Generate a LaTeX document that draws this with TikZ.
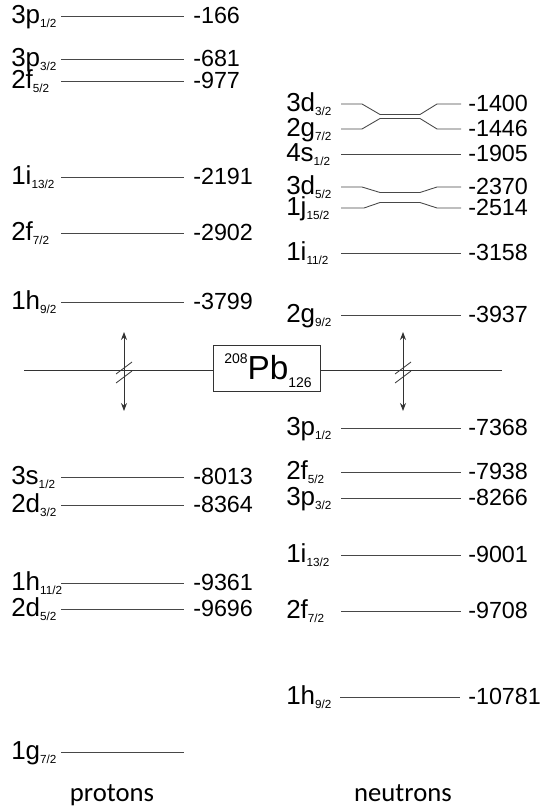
\documentclass[tikz,border=0pt]{standalone}
\usepackage{fontspec}
\setmainfont{Liberation Sans}
\newfontfamily\capfont{Carlito}
\usetikzlibrary{arrows.meta}
\newcommand{\lvlrow}[8]{%
  \node[lab] (#1l) at (#2,#5+7.5) {#6\raisebox{-3.2pt}{\fontsize{8.8}{9}\selectfont #7}};
  \node[val] (#1v) at (#4,#5+7.5) {#8};
  \coordinate (#1a) at (#3,#5);
}
\begin{document}
\begin{tikzpicture}[x=0.75pt,y=-0.75pt,
  lvl/.style={draw=black!72,line width=0.65pt},
  lab/.style={anchor=base west,inner sep=0pt,font=\fontsize{19.5}{20}\selectfont},
  val/.style={anchor=base west,inner sep=0pt,font=\fontsize{17.5}{18}\selectfont},
  axis/.style={draw=black!80,line width=0.6pt},
  dbl/.style={axis,{Stealth[length=6pt,width=4.5pt]}-{Stealth[length=6pt,width=4.5pt]}},
  captext/.style={anchor=base,inner sep=0pt,font=\capfont\fontsize{20}{20}\selectfont}]
\useasboundingbox (0,0) rectangle (539,812);
% ---------- protons ----------
\lvlrow{pa}{11}{61}{193}{16}{3p}{1/2}{-166}
\lvlrow{pb}{11}{61}{193}{59}{3p}{3/2}{-681}
\lvlrow{pc}{11}{61}{193}{81}{2f}{5/2}{-977}
\lvlrow{pd}{11}{61}{193}{177}{1i}{13/2}{-2191}
\lvlrow{pe}{11}{61}{193}{233}{2f}{7/2}{-2902}
\lvlrow{pf}{11}{61}{193}{302}{1h}{9/2}{-3799}
\lvlrow{pg}{11}{61}{193}{477}{3s}{1/2}{-8013}
\lvlrow{ph}{11}{61}{193}{505}{2d}{3/2}{-8364}
\lvlrow{pi}{11}{61}{193}{583}{1h}{11/2}{-9361}
\lvlrow{pj}{11}{61}{193}{609}{2d}{5/2}{-9696}
\lvlrow{pk}{11}{61}{193}{752}{1g}{7/2}{}
\foreach \n/\y in {pa/16,pb/59,pc/81,pd/177,pe/233,pf/302,pg/477,ph/505,pi/583,pj/609}
  {\draw[lvl] (\n a) -- (184,\y);}
\draw[lvl] (pka) -- (184,752);
% ---------- neutrons ----------
\lvlrow{na}{286}{341}{468}{104}{3d}{3/2}{-1400}
\lvlrow{nb}{286}{341}{468}{129}{2g}{7/2}{-1446}
\lvlrow{nc}{286}{341}{468}{154}{4s}{1/2}{-1905}
\lvlrow{nd}{286}{341}{468}{187}{3d}{5/2}{-2370}
\lvlrow{ne}{286}{341}{468}{208}{1j}{15/2}{-2514}
\lvlrow{nf}{286}{341}{468}{253}{1i}{11/2}{-3158}
\lvlrow{ng}{286}{341}{468}{315}{2g}{9/2}{-3937}
\lvlrow{nh}{286}{341}{468}{428}{3p}{1/2}{-7368}
\lvlrow{ni}{286}{341}{468}{472}{2f}{5/2}{-7938}
\lvlrow{nj}{286}{341}{468}{498}{3p}{3/2}{-8266}
\lvlrow{nk}{286}{341}{468}{555}{1i}{13/2}{-9001}
\lvlrow{nl}{286}{341}{468}{611}{2f}{7/2}{-9708}
\lvlrow{nm}{286}{340}{468}{697}{1h}{9/2}{-10781}
% crossing levels
\draw[lvl] (naa) -- (362,104) -- (380,114.5) -- (420,114.5) -- (437,104) -- (461,104);
\draw[lvl] (nba) -- (362,129) -- (380,118.5) -- (420,118.5) -- (437,129) -- (461,129);
\draw[lvl] (nda) -- (362,187) -- (380,192.5) -- (420,192.5) -- (437,187) -- (461,187);
\draw[lvl] (nea) -- (364,208) -- (380,202.5) -- (420,202.5) -- (437,208) -- (461,208);
\foreach \n/\y in {nc/154,nf/253,ng/315,nh/428,ni/472,nj/498,nk/555,nl/611}
  {\draw[lvl] (\n a) -- (461,\y);}
\draw[lvl] (nma) -- (460,697);
% ---------- centre ----------
\node[draw=black!80,line width=0.6pt,minimum width=80.25pt,minimum height=34.5pt,inner sep=0pt] (pbbox) at (266.5,368) {};
\node[anchor=base,inner sep=0pt] (pbtext) at (268,379.3)
  {\raisebox{12.2pt}{\fontsize{10.5}{11}\selectfont 208}\fontsize{25}{25}\selectfont Pb\raisebox{-5.8pt}{\fontsize{10.5}{11}\selectfont 126}};
\coordinate (axl) at (24,370);
\coordinate (axr) at (502,370);
\draw[axis] (axl) -- (pbbox.west|-axl);
\draw[axis] (pbbox.east|-axr) -- (axr);
\coordinate (ltop) at (124,332); \coordinate (lbot) at (124,411);
\coordinate (rtop) at (403,332); \coordinate (rbot) at (403,411);
\draw[dbl] (ltop) -- (lbot);
\draw[dbl] (rtop) -- (rbot);
\foreach \cx in {124,403}{
  \draw[axis] (\cx-8,374) -- (\cx+8,362);
  \draw[axis] (\cx-8,383) -- (\cx+8,371);
}
% ---------- captions ----------
\node[captext] (prot) at (112,801) {protons};
\node[captext] (neut) at (403,801) {neutrons};
\end{tikzpicture}
\end{document}
